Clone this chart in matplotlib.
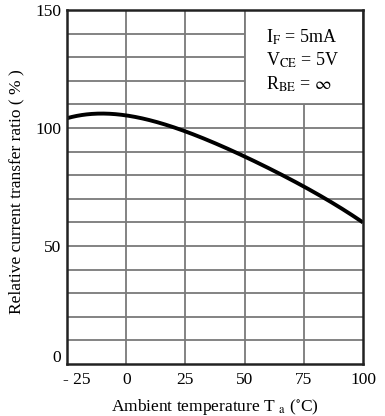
import matplotlib
matplotlib.use("Agg")
import matplotlib.pyplot as plt
from matplotlib.patches import Rectangle
from matplotlib.transforms import ScaledTranslation
import numpy as np

plt.rcParams['font.family'] = ['Liberation Serif', 'DejaVu Serif']
plt.rcParams['mathtext.fontset'] = 'stix'

temps = [-25, -20, -10, 0, 12.5, 25, 37.5, 50, 62.5, 75, 87.5, 100]
ratio = [104, 105.5, 106, 105.5, 102.5, 98.5, 93.5, 88, 82, 75, 68, 60]
xticks = [-25, 0, 25, 50, 75, 100]
xticklabels = ['- 25', '0', '25', '50', '75', '100']
yticks = [0, 50, 100, 150]
conditions = [r'I$_{\rm F}$ = 5mA', r'V$_{\rm CE}$ = 5V', r'R$_{\rm BE}$ = $\infty$']

fig = plt.figure(figsize=(3.85, 4.16), dpi=100)
ax = fig.add_axes([67/385, 52/416, 296/385, 354/416])
ax.set_xlim(-25, 100)
ax.set_ylim(0, 150)

gc = '#7a7a7a'
for xv in np.arange(0, 100, 25):
    ax.axvline(xv, color=gc, lw=1.3, zorder=1)
for yv in np.arange(10, 150, 10):
    ax.axhline(yv, color=gc, lw=1.3, zorder=1)

ax.add_patch(Rectangle((50, 110), 50, 40, facecolor='white', edgecolor=gc, lw=1.3, zorder=2))

# smooth curve through read points
xs = np.array(temps, float)
ys = np.array(ratio, float)
xf = np.linspace(xs[0], xs[-1], 300)
coef = np.polyfit(xs, ys, 4)
ax.plot(xf, np.polyval(coef, xf), color='black', lw=2.8, zorder=3, solid_capstyle='butt')

for i, t in enumerate(conditions):
    ax.text(59, 138.6 - i * 10, t, fontsize=13, va='center', ha='left', zorder=4)

ax.set_xticks(xticks)
ax.set_xticklabels(xticklabels)
ax.set_yticks(yticks)
ax.tick_params(length=0, labelsize=12.5, pad=4)
ax.tick_params(axis='x', pad=6)

# nudge corner labels as in the reference
ylab0 = ax.get_yticklabels()[0]
ylab0.set_transform(ylab0.get_transform() + ScaledTranslation(0, 8/100, fig.dpi_scale_trans))
xlab0 = ax.get_xticklabels()[0]
xlab0.set_transform(xlab0.get_transform() + ScaledTranslation(10/100, 0, fig.dpi_scale_trans))

for s in ax.spines.values():
    s.set_linewidth(1.8)
    s.set_color('#222222')
    s.set_zorder(5)

ax.set_xlabel(r'Ambient temperature T $_{\rm a}$ ($^{\circ}$C)', fontsize=12.5, labelpad=6)
ax.set_ylabel('Relative current transfer ratio ( % )', fontsize=12.5, labelpad=8)
ax.yaxis.set_label_coords(-0.145, 0.486)

fig.savefig('out.png', dpi=100)
